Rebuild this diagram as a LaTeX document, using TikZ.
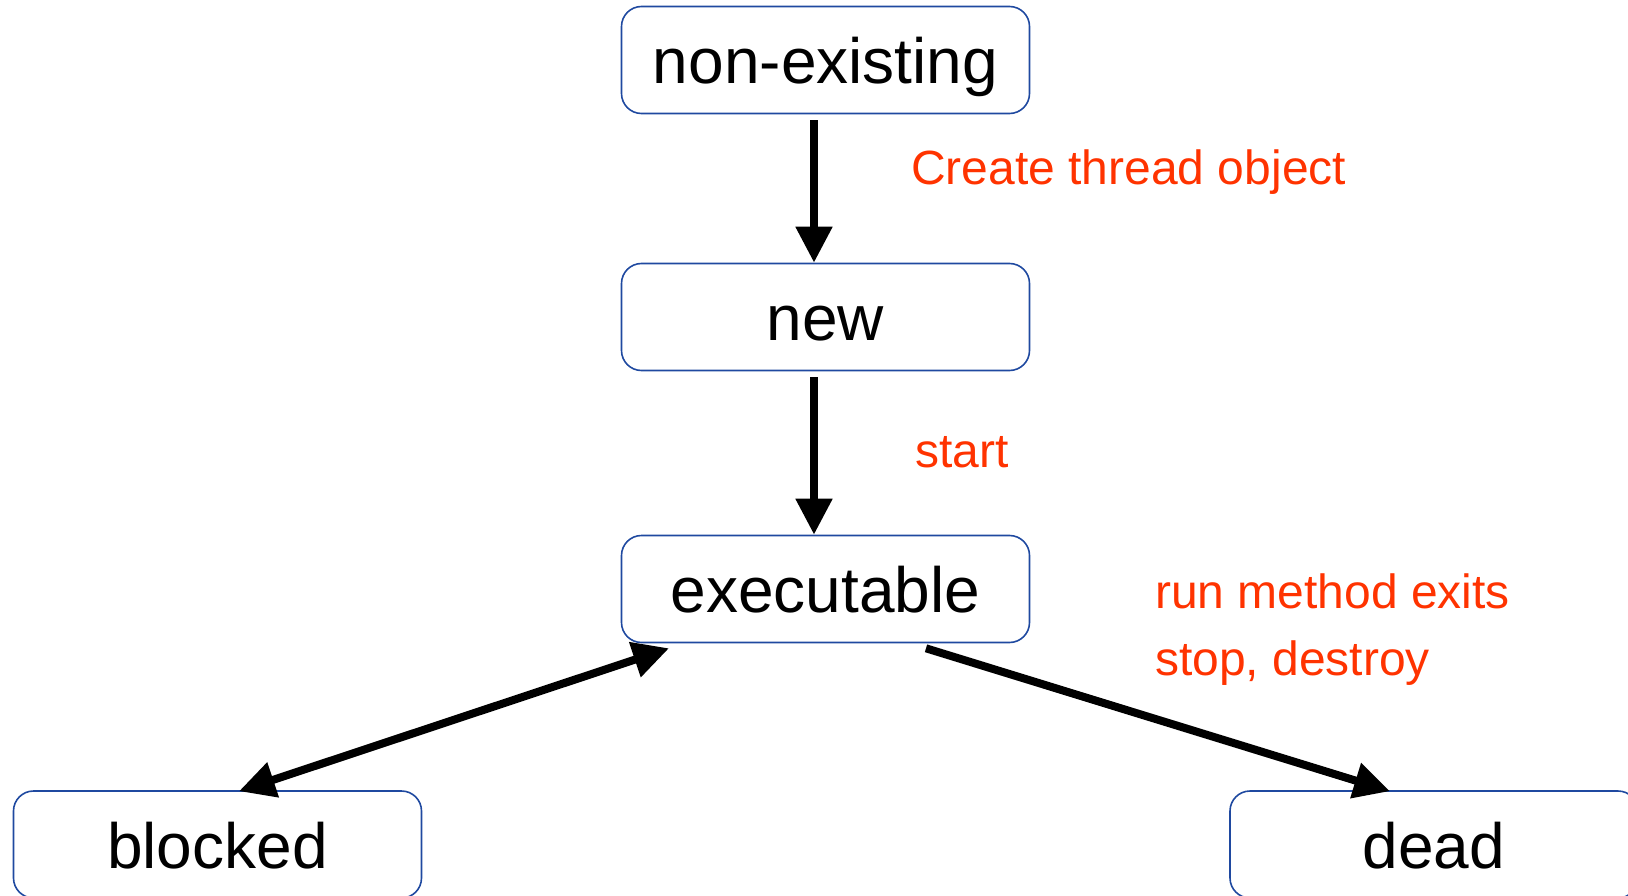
\documentclass[tikz,border=0pt]{standalone}
\usepackage{fontspec}
\setmainfont{Liberation Sans}
\usetikzlibrary{arrows.meta,calc}
\definecolor{boxblue}{RGB}{31,73,160}
\definecolor{labelred}{RGB}{255,51,0}
\begin{document}
\begin{tikzpicture}[x=1pt,y=-1pt,
  state/.style={draw=boxblue, line width=1.6pt, rounded corners=20pt,
    minimum width=408pt, minimum height=107pt, inner sep=0pt,
    text height=47pt, text depth=0pt,
    font=\fontsize{64}{64}\selectfont},
  trans/.style={line width=8pt, -{Triangle[length=36pt,width=35pt]}},
  both/.style={line width=8pt, {Triangle[length=36pt,width=35pt]}-{Triangle[length=36pt,width=35pt]}},
  lbl/.style={anchor=base west, text=labelred, inner sep=0pt,
    font=\fontsize{48}{48}\selectfont}]
\useasboundingbox (0,0) rectangle (1628,896);

% states
\node[state] (ne)   at (825.5,60)   {non-existing};
\node[state] (new)  at (825.5,317)  {new};
\node[state] (exe)  at (825.5,589)  {executable};
\node[state] (blk)  at (217.5,844.5) {blocked};
\node[state] (dead) at (1434,844.5) {dead};

% connector end points next to the boxes
\coordinate (a1) at ($(ne.south)+(-11.5,6)$);
\coordinate (a2) at ($(new.north)+(-11.5,0)$);
\coordinate (b1) at ($(new.south)+(-11.5,6)$);
\coordinate (b2) at ($(exe.north)+(-11.5,0)$);
\coordinate (c1) at ($(exe.south)+(-156.5,5)$);
\coordinate (c2) at ($(blk.north)+(21.5,1)$);
\coordinate (d1) at ($(exe.south)+(100.5,5)$);
\coordinate (d2) at ($(dead.north)+(-44,1)$);

% transitions
\draw[trans] (a1) -- (a2);
\draw[trans] (b1) -- (b2);
\draw[both]  (c1) -- (c2);
\draw[trans] (d1) -- (d2);

% transition labels
\node[lbl] (l1) at (911,185)  {Create thread object};
\node[lbl] (l2) at (915,467)  {start};
\node[lbl] (l3) at (1155,608) {run method exits};
\node[lbl] (l4) at (1155,675) {stop, destroy};
\end{tikzpicture}
\end{document}
